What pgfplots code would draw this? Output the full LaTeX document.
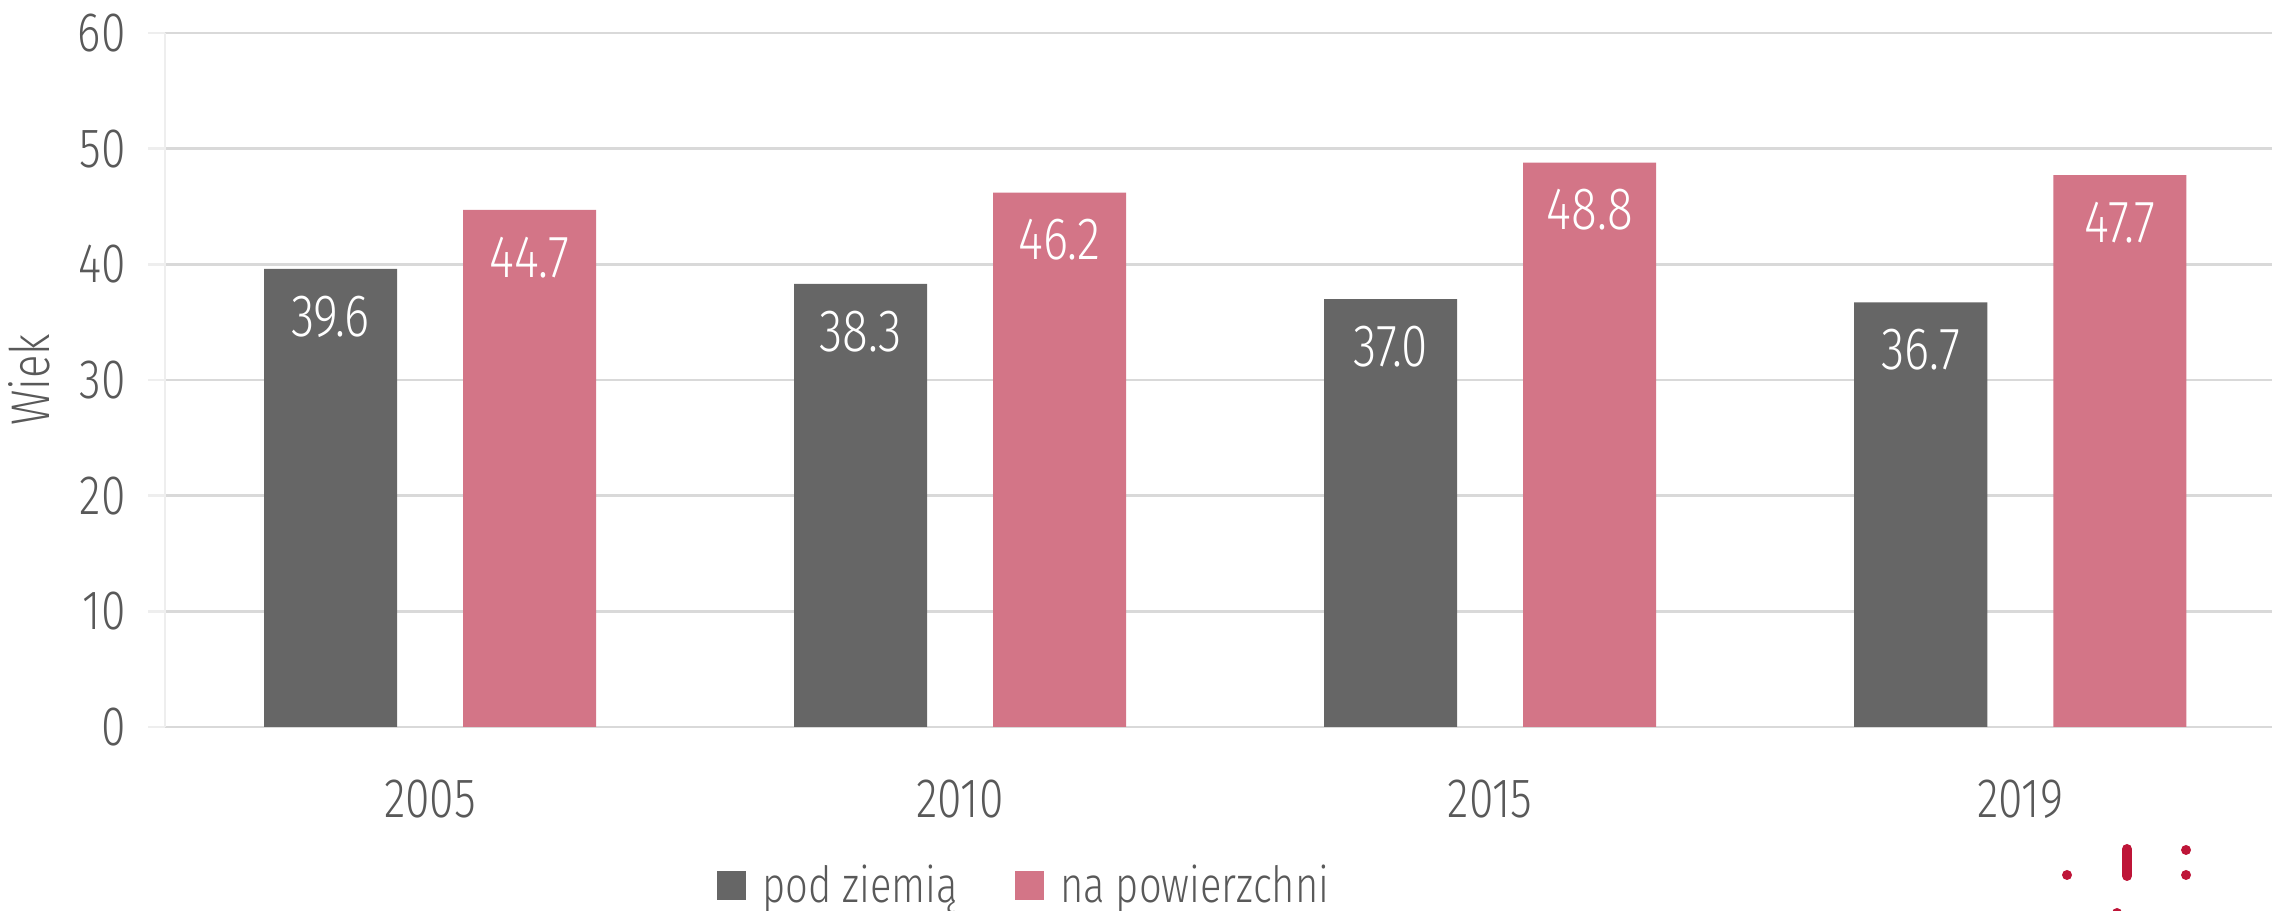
\documentclass[border=0pt]{standalone}
\usepackage{fontspec}
\setmainfont{Fira Sans Light}[FakeStretch=0.8]
\usepackage{pgfplots}
\pgfplotsset{compat=1.18}

\definecolor{barGray}{HTML}{666666}
\definecolor{barPink}{HTML}{D37587}
\definecolor{txtGray}{HTML}{595959}
\definecolor{gridGray}{HTML}{D9D9D9}
\definecolor{axGray}{HTML}{EEEEEE}
\definecolor{logoRed}{HTML}{BE1538}

\begin{document}
\begin{tikzpicture}
\begin{axis}[
  name=ax,
  scale only axis, width=210.7mm, height=69.4mm,
  xmin=-0.5, xmax=3.475, ymin=0, ymax=60,
  ybar=6.6mm, bar width=13.3mm,
  xtick={0,1,2,3}, xticklabels={2005,2010,2015,2019},
  ytick={0,10,...,60},
  /pgf/number format/assume math mode=true,
  ymajorgrids, grid style={gridGray, line width=0.8pt},
  axis lines*=left,
  x axis line style={draw=gridGray, line width=0.8pt},
  y axis line style={draw=axGray, line width=0.8pt},
  tick align=outside,
  major x tick style={draw=none},
  major y tick style={draw=axGray, line width=0.8pt},
  major tick length=1.7mm,
  ticklabel style={font=\fontsize{15.8}{16}\selectfont, text=txtGray},
  yticklabel style={xshift=-1.0mm},
  xticklabel style={yshift=-2.4mm},
  ylabel={Wiek},
  ylabel style={font=\fontsize{15.5}{16}\selectfont, text=txtGray, yshift=0.4mm},
  nodes near coords,
  nodes near coords align={below},
  every node near coord/.append style={
    text=white, inner sep=0pt, yshift=-2.6mm,
    font=\fontsize{17}{18}\selectfont,
    /pgf/number format/fixed, /pgf/number format/zerofill,
    /pgf/number format/precision=1,
    /pgf/number format/assume math mode=true},
  legend style={at={(0.409,-0.229)}, anchor=center, draw=none, fill=none,
    font=\fontsize{14.2}{15}\selectfont, text=txtGray,
    /tikz/every odd column/.append style={column sep=0.9mm},
    /tikz/every even column/.append style={column sep=5.0mm}},
  legend columns=2,
  legend image code/.code={\fill[#1] (0mm,-1.45mm) rectangle (2.9mm,1.45mm);},
]
\addplot[fill=barGray, draw=none] coordinates {(0,39.6) (1,38.3) (2,37.0) (3,36.7)};
\addlegendentry{pod ziemią}
\addplot[fill=barPink, draw=none] coordinates {(0,44.7) (1,46.2) (2,48.8) (3,47.7)};
\addlegendentry{na powierzchni}
\end{axis}
% logo fragment in the lower right corner
\fill[logoRed] ([xshift=190.2mm,yshift=-14.8mm]ax.south west) circle (0.5mm);
\draw[logoRed, line width=1mm, line cap=round] ([xshift=196.2mm,yshift=-12.2mm]ax.south west) -- ++(0,-2.7mm);
\fill[logoRed] ([xshift=202.1mm,yshift=-12.3mm]ax.south west) circle (0.5mm);
\fill[logoRed] ([xshift=202.1mm,yshift=-14.8mm]ax.south west) circle (0.5mm);
\fill[logoRed] ([xshift=195.2mm,yshift=-18.6mm]ax.south west) circle (0.5mm);
\pgfresetboundingbox
\path ([xshift=-16.5mm,yshift=-18.4mm]ax.south west) rectangle ([yshift=3.3mm]ax.north east);
\end{tikzpicture}
\end{document}
